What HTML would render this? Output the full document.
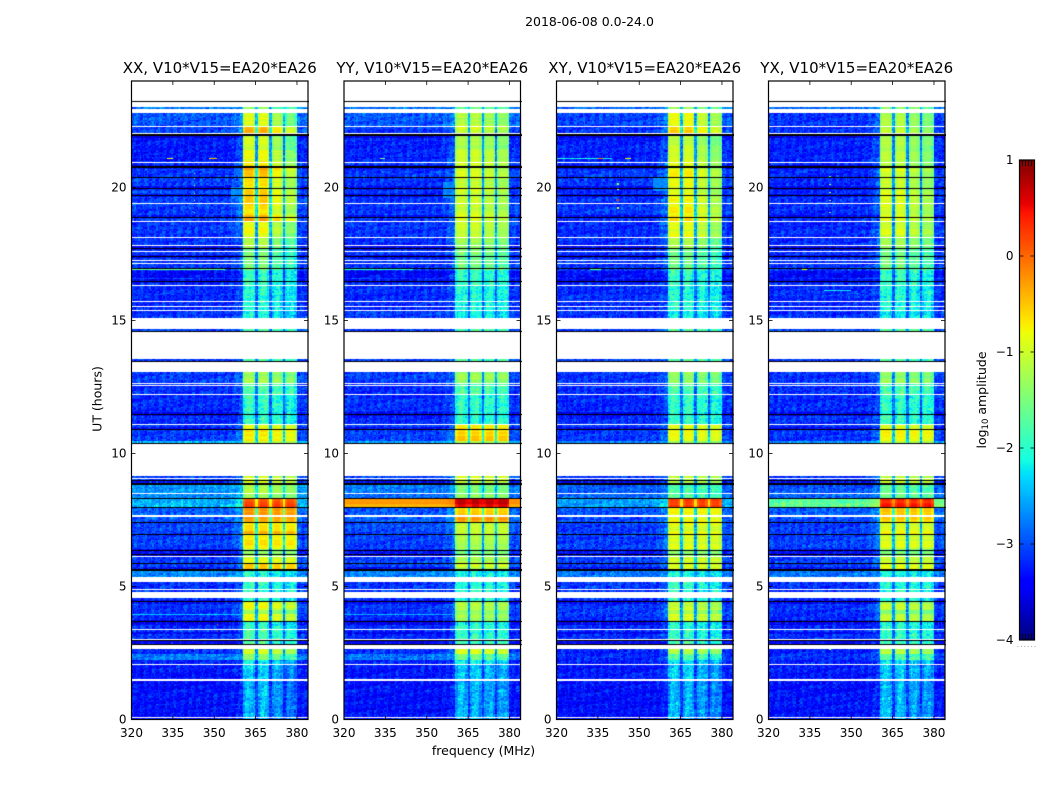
<!DOCTYPE html>
<html lang="en">
<head>
<meta charset="utf-8">
<title>Dynamic spectra 2018-06-08</title>
<style>
html,body{margin:0;padding:0;background:#fff;}
#figure{position:relative;width:1050px;height:800px;overflow:hidden;background:#fff;font-family:"DejaVu Sans","Liberation Sans",sans-serif;}
#figure canvas{position:absolute;display:block;}
#overlay{position:absolute;left:0;top:0;}
#overlay text{fill:#000;font-family:"DejaVu Sans","Liberation Sans",sans-serif;}
</style>
</head>
<body>
<div id="figure">
<svg id="overlay" width="1050" height="800" viewBox="0 0 1050 800" xmlns="http://www.w3.org/2000/svg">
  <text x="589.5" y="26" font-size="12.5" text-anchor="middle">2018-06-08 0.0-24.0</text>
  <text x="483.5" y="755" font-size="12.5" text-anchor="middle">frequency (MHz)</text>
  <text transform="translate(101.5 399) rotate(-90)" font-size="12.5" text-anchor="middle">UT (hours)</text>
  <text transform="translate(986 400) rotate(-90)" font-size="12.5" text-anchor="middle">log<tspan font-size="8.5" dy="2">10</tspan><tspan dy="-2"> amplitude</tspan></text>
</svg>
</div>
<script>
/* ---------- axis ticks ---------- */
const xTicks = [320, 335, 350, 365, 380];
const yTicks = [0, 5, 10, 15, 20];
const colorTicks = [-4, -3, -2, -1, 0, 1];
const panelTitles = ['XX, V10*V15=EA20*EA26', 'YY, V10*V15=EA20*EA26', 'XY, V10*V15=EA20*EA26', 'YX, V10*V15=EA20*EA26'];
const panelKeys = ['xx', 'yy', 'xy', 'yx'];

/* ---------- time structure (hours UT), one entry per level segment ---------- */
const rowStart = [0,1.5,2.05,2.25,2.45,2.8,3,3.4,3.7,3.95,
4.1,4.45,5.37,5.65,5.85,6.1,6.4,6.95,7.1,7.4,
7.66,8,8.32,8.5,8.85,9.14,10.38,10.45,10.95,11.1,
12.2,12.6,13.08,15.08,15.4,16.3,16.9,17.7,18.1,18.75,
18.95,19.4,19.7,20,20.4,20.8,21,21.4,22,22.3,
22.8];

/* log10 amplitude below 360 MHz and inside the 360-380 MHz band */
const xxLow = [-3.25,-3.2,-3.15,-2.7,-3.1,-3.1,-3.1,-3.1,-3.1,-3.05,
-3.05,-3.05,-2.65,-3,-3,-3,-3,-3,-2.95,-2.9,
-2.85,-2.4,-2.6,-2.55,-3,-3,-2.4,-3,-3,-3.1,
-3.1,-3,-3,-3.05,-3.1,-3.05,-3.05,-3.05,-3.05,-3,
-3,-3,-3,-3,-3,-3.05,-3.2,-3.2,-3,-2.85,
-2.7];
const xxHigh = [-2.45,-2.35,-2.15,-1.5,-1.05,-1.7,-1.8,-1.9,-.9,-1.3,
-.95,-1.9,-2,-.6,-.9,-1.3,-.75,-.45,-.7,-.4,
-.35,.1,-1.35,-1.2,-1.05,-1.5,-1.2,-.75,-.85,-1.9,
-1.75,-1.35,-1.7,-2.1,-2,-1.85,-1.6,-1.3,-1,-.5,
-.8,-.7,-.75,-.8,-.55,-.8,-.95,-1.15,-.6,-1.05,
-1.5];
const yyLow = [-3.25,-3.2,-3.15,-2.75,-3.1,-3.1,-3.1,-3.1,-3.1,-3.05,
-3.05,-3.05,-2.65,-3,-3,-3,-3,-3,-2.95,-2.85,
-2.85,-.35,-2.75,-2.7,-3,-3,-2.5,-3,-3,-3.1,
-3.1,-3,-3,-3.05,-3.1,-3.05,-3.05,-3.05,-3.05,-3.05,
-3.05,-3.05,-3.05,-3.05,-3.05,-3.05,-3.15,-3.15,-3.05,-2.85,
-2.7];
const yyHigh = [-2.45,-2.35,-2.15,-1.6,-1.05,-1.75,-1.85,-1.95,-1.25,-1.4,
-1.15,-1.95,-2,-1.1,-1.25,-1.45,-1.25,-1.1,-1.15,-.3,
-.55,.6,-1.35,-1.5,-1,-1.5,-1.2,-.6,-.75,-1.9,
-1.7,-1.35,-1.7,-2.1,-2,-1.85,-1.55,-1.3,-1.1,-1,
-1.1,-1.05,-1.05,-1.1,-1,-1.05,-1.15,-1.25,-1.05,-1.2,
-1.55];
const xyLow = [-3.25,-3.2,-3.15,-3.05,-3.15,-3.1,-3.1,-3.1,-3.1,-3.05,
-3.05,-3.05,-2.7,-3,-3,-3,-3,-3,-3,-2.95,
-2.9,-2.5,-2.8,-2.85,-3.05,-3,-2.6,-3.05,-3.05,-3.1,
-3.1,-3.05,-3,-3.05,-3.1,-3.05,-3.05,-3.1,-3.1,-3.05,
-3.05,-3.05,-3.05,-3.05,-3.05,-3.05,-3.15,-3.15,-3.05,-3,
-2.8];
const xyHigh = [-2.45,-2.35,-2.2,-1.7,-1.2,-1.75,-1.9,-1.95,-1.05,-1.4,
-1.1,-1.95,-2.05,-.9,-1.05,-1.4,-.95,-.8,-.95,-.85,
-.8,.2,-1.7,-1.75,-1.15,-1.5,-1.25,-.9,-.95,-1.9,
-1.75,-1.4,-1.7,-2.1,-2,-1.85,-1.6,-1.35,-1,-.7,
-.9,-.9,-.95,-1,-.9,-1,-1.05,-1.2,-.65,-1,
-1.4];
const yxLow = [-3.25,-3.2,-3.15,-3.05,-3.15,-3.1,-3.1,-3.1,-3.1,-3.05,
-3.05,-3.05,-2.75,-3,-3,-3,-3,-3,-3,-2.95,
-2.85,-1.6,-2.8,-2.85,-3.05,-3,-2.6,-3.05,-3.05,-3.1,
-3.1,-3.05,-3,-3.05,-3.1,-3.05,-3.05,-3.1,-3.1,-3.1,
-3.1,-3.1,-3.1,-3.1,-3.1,-3.1,-3.15,-3.15,-3.1,-3.05,
-2.8];
const yxHigh = [-2.45,-2.35,-2.2,-1.7,-1.15,-1.75,-1.9,-1.95,-1.1,-1.45,
-1.15,-1.95,-2.05,-.9,-1.1,-1.4,-1,-.8,-.95,-.65,
-.6,.35,-1.6,-1.6,-1.1,-1.5,-1.25,-.8,-.9,-1.9,
-1.75,-1.4,-1.7,-2.1,-2,-1.85,-1.6,-1.3,-1.05,-.95,
-1.05,-1.05,-1.05,-1.1,-1.05,-1.15,-1.2,-1.3,-1.2,-1.25,
-1.5];
/* how much the upper sub-bands fall below the lower ones in each segment */
const rowTilt = [.6,.6,.6,.5,.5,.5,.5,.5,.4,.4,
.4,.4,.4,.1,.1,.1,.1,.1,.1,.1,
.1,0,.3,.3,.3,.3,.3,.2,.2,.3,
.3,.3,.3,.4,.4,.5,.6,.8,1,1,
1,1,1,1,1,1,1,1,1,1,
.6];
const panelTilt = [1, .4, .7, .5];

/* ---------- frequency structure (MHz) ---------- */
const notchWeight = .28;
const profileStart  = [320,356,357,358,359,360,360.4,361.2,363.9,364.8,365.7,366.5,369.1,369.96,370.8,371.6,374,374.8,375.5,376.3,379,380];
const profileWeight = [0,.03,.06,.1,.14,.2,1,1,1,.28,1,1,1,.28,1,1,1,.28,1,1,1,.04];
const profileTrim   = [0,0,0,0,0,0,-.12,.06,-.12,0,-.12,.06,-.12,0,-.12,.06,-.12,0,-.12,.06,-.12,0];
const profileTilt   = [0,0,0,0,0,0,.1,.1,.1,0,.12,.12,.12,0,-.2,-.2,-.2,-.2,-.5,-.5,-.5,0];

/* ---------- flagged data: white gaps [start,end] and black lines [centre,width] in hours ---------- */
const whiteGaps = [[.05,.09],[1.46,1.53],[2.04,2.08],[2.65,2.8],[2.99,3.03],[3.35,3.39],[4.57,4.6],[4.62,4.79],[4.85,4.89],[5.18,5.37],
[6.1,6.14],[7.6,7.67],[8.49,8.53],[9.03,9.07],[9.14,10.38],[11.07,11.12],[12.18,12.24],[12.55,12.58],[12.6,12.63],[13.08,13.45],
[13.55,14.56],[14.66,15.08],[15.38,15.41],[15.53,15.56],[15.7,15.73],[16.28,16.32],[17.13,17.17],[17.24,17.27],[17.56,17.6],[17.8,17.85],
[18.09,18.13],[18.71,18.75],[19.39,19.43],[20.93,20.97],[22.02,22.06],[22.28,22.32],[22.8,22.95],[23.03,24]];
const blackLines = [[2.82,.03],[2.97,.03],[3.68,.06],[4.43,.05],[5.62,.08],[5.87,.03],[6.22,.03],[6.37,.03],[6.94,.04],[7.41,.04],
[7.98,.03],[8.32,.04],[8.85,.06],[9,.03],[10.38,.03],[10.91,.05],[11.47,.04],[13.45,.04],[14.58,.04],[16.48,.04],
[16.96,.03],[17.4,.04],[17.7,.04],[18.88,.05],[19.7,.04],[19.96,.07],[20.38,.04],[20.76,.06],[21.94,.03],[22,.03],[23.23,.05]];
/* rows where the whole spectrum sits visibly darker */
const darkBands = [[2.82,2.97],[3.2,3.3],[3.55,3.75],[4.35,4.5],[5.58,5.72],[6.15,6.4],[8.8,9],[10.9,11],[11.4,11.55],[16.4,16.55],
[16.6,16.85],[17.35,17.45],[17.65,17.78],[18.85,18.95],[19.65,19.75],[19.9,20.05],[20.7,20.85],[21.85,22.02]];

/* ---------- narrow interference: [hourStart,hourEnd,mhzStart,mhzEnd,level] ---------- */
const xxSpikes = [[16.9,16.95,320,354,-1.6],[16.92,16.97,340,342,.2],[21.07,21.11,333,335,-.8],[21.07,21.11,348,351,-.5],[18.08,18.15,349,350,-.2],
[13.05,13.09,345,346,-.6],[13.05,13.09,352,355,-.5],[13.05,13.09,330,334,-1.4],[3.93,3.97,320,360,-2.4],[19.05,19.09,342.5,343,-1.5],[19.5,19.54,342.5,343,-1.2],[19.75,19.8,342.5,343,-1.1],[20.05,20.1,342.5,343,-1],[20.3,20.35,342.5,343,-1.2],[20.5,20.55,342.5,343,-1.5],
[3.28,3.33,351,351.5,.2],[3.55,3.6,351,351.5,.1],[2.62,2.66,342.5,343,-1.6],[19.6,20,356,360,-2.7]];
const yySpikes = [[16.9,16.95,320,345,-2],[21.07,21.11,333,335,-1.5],[3.93,3.97,320,360,-2.5],[19.6,20.2,356,360,-2.7]];
const xySpikes = [[21.07,21.11,320,340,-2.1],[21.07,21.11,335,337,-.1],[21.07,21.11,345,347,-.8],[19.5,19.56,342,342.5,.4],[19.2,19.25,342,342.5,-1.1],[19.9,19.95,342,342.5,-1.1],[20.1,20.15,342,342.5,-1.3],[18.7,18.75,342,342.5,-1.6],
[16.9,16.95,332,336,-1.7],[2.6,2.66,342,342.5,-1],[19.85,20.35,355,360,-2.7]];
const yxSpikes = [[19.05,19.09,342,342.5,-1.4],[19.5,19.54,342,342.5,-1.2],[19.8,19.84,342,342.5,-1.1],[20.1,20.14,342,342.5,-1.3],[20.4,20.44,342,342.5,-1.5],
[16.9,16.95,332,334,-.8],[16.1,16.14,340,350,-2.2],[2.6,2.66,342,342.5,-1.3]];

/* ---------- fixed receiver-noise texture (hand-typed, normalised) ---------- */
const speckleA = [.4,-.7,.9,-.2,.1,-.9,.6,.3,-.5,.8,-.1,-.6,.2,.7,-.8,.5,-.3,1,-.4,0,.6,-1,.3,-.2,.8,-.7,.1,.5,-.9,.4,
-.1,.7,-.5,.2,-.8,.9,-.3,.6,0,-.6,.3,-.9,.7,.1,-.4,.5,-.2,.8,-.7,.2,-.5,.9,-.1];
const speckleB = [-.3,.8,-.6,.2,.5,-.9,.1,.7,-.4,-.1,.9,-.7,.3,.6,-.2,-.8,.4,1,-.5,0,.7,-.3,-.9,.5,.2,-.6,.8,-.1,.4,-.7,
.6,.1,-.4,.9,-.8,.3,-.2,.5,-1,.7,.2,-.5,.4,-.6,.8,-.3,.1];

const lowByPanel = [xxLow, yyLow, xyLow, yxLow];
const highByPanel = [xxHigh, yyHigh, xyHigh, yxHigh];
const spikesByPanel = [xxSpikes, yySpikes, xySpikes, yxSpikes];

/* ---------- layout ---------- */
const panelLeft = [131.5, 344, 556.5, 768.5];
const panelWidth = 176.5, plotTop = 81, plotBottom = 719.5;
const freqMin = 320, freqMax = 384, hourMin = 0, hourMax = 24;
const cbLeft = 1019.5, cbRight = 1034.5, cbTop = 160, cbBottom = 640;
const colorMin = -4, colorMax = 1;
const SVGNS = 'http://www.w3.org/2000/svg';
const overlay = document.getElementById('overlay');
const figure = document.getElementById('figure');

function xScale(left, mhz) { return left + (mhz - freqMin) * panelWidth / (freqMax - freqMin); }
function yScale(hour) { return plotBottom - (hour - hourMin) * (plotBottom - plotTop) / (hourMax - hourMin); }
function cScale(level) { return cbBottom - (level - colorMin) * (cbBottom - cbTop) / (colorMax - colorMin); }

function ramp(p, xs, ys) {
  if (p <= xs[0]) return ys[0];
  for (let i = 1; i < xs.length; i++) {
    if (p <= xs[i]) return ys[i - 1] + (ys[i] - ys[i - 1]) * (p - xs[i - 1]) / (xs[i] - xs[i - 1]);
  }
  return ys[ys.length - 1];
}
function jet(level) {
  const p = Math.max(0, Math.min(1, (level - colorMin) / (colorMax - colorMin)));
  return [
    255 * ramp(p, [0, .35, .66, .89, 1], [0, 0, 1, 1, .5]),
    255 * ramp(p, [0, .125, .375, .64, .91, 1], [0, 0, 1, 1, 0, 0]),
    255 * ramp(p, [0, .11, .34, .65, 1], [.5, 1, 1, 0, 0])
  ];
}
function segmentIndex(hour) {
  let k = 0;
  while (k + 1 < rowStart.length && rowStart[k + 1] <= hour) k++;
  return k;
}
function profileIndex(mhz) {
  let k = 0;
  while (k + 1 < profileStart.length && profileStart[k + 1] <= mhz) k++;
  return k;
}
function cellValue(p, hour, mhz) {
  const seg = segmentIndex(hour);
  const prof = profileIndex(mhz);
  const r = Math.floor(hour / 0.05);
  const c = Math.floor((mhz - freqMin) / 0.5);
  const low = lowByPanel[p][seg];
  const high = highByPanel[p][seg] + profileTilt[prof] * rowTilt[seg] * panelTilt[p] + profileTrim[prof];
  let w = profileWeight[prof];
  if (w === notchWeight) w += .35 * Math.max(0, high + 1);
  let v = low + (high - low) * w;
  const noise = speckleA[(c * 7 + r * 11 + p * 9) % 53] * .22 + speckleB[(c * 5 + r * 23 + (c * r) % 13 + p * 5) % 47] * .22;
  const ripple = speckleB[(r * 3 + p) % 47];
  v += v < -1.55 ? noise - .1 + ripple * .05 : noise * .12 + ripple * .12;
  for (let d = 0; d < darkBands.length; d++) {
    if (hour >= darkBands[d][0] && hour < darkBands[d][1]) v -= .2 * (1 - Math.min(1, w)) + .06;
  }
  const spikes = spikesByPanel[p];
  for (let s = 0; s < spikes.length; s++) {
    const q = spikes[s];
    if (hour >= q[0] && hour < q[1] && mhz >= q[2] && mhz < q[3]) v = q[4] + noise * .4;
  }
  return v;
}

function drawHeatmap(p) {
  const left = panelLeft[p];
  const x0 = Math.floor(left), y0 = plotTop;
  const cw = 178, ch = Math.ceil(plotBottom - plotTop);
  const cv = document.createElement('canvas');
  
  
  cv.width = cw; cv.height = ch;
  cv.style.left = x0 + 'px'; cv.style.top = y0 + 'px';
  const ctx = cv.getContext('2d');
  const img = ctx.createImageData(cw, ch);
  for (let py = 0; py < ch; py++) {
    const hour = (plotBottom - (y0 + py + .5)) * (hourMax - hourMin) / (plotBottom - plotTop);
    for (let px = 0; px < cw; px++) {
      const mhz = freqMin + (x0 + px + .5 - left) * (freqMax - freqMin) / panelWidth;
      const i = (py * cw + px) * 4;
      let rgb = [255, 255, 255];
      if (hour >= 0 && mhz >= freqMin && mhz <= freqMax) rgb = jet(cellValue(p, hour, mhz));
      img.data[i] = rgb[0]; img.data[i + 1] = rgb[1]; img.data[i + 2] = rgb[2]; img.data[i + 3] = 255;
    }
  }
  ctx.putImageData(img, 0, 0);
  ctx.fillStyle = '#fff';
  whiteGaps.forEach(function (g) {
    const a = Math.round(yScale(g[1])), b = Math.round(yScale(g[0]));
    ctx.fillRect(0, a - y0, cw, Math.max(1, b - a));
  });
  ctx.fillStyle = '#000';
  blackLines.forEach(function (g) {
    const a = Math.round(yScale(g[0] + g[1] / 2)), b = Math.round(yScale(g[0] - g[1] / 2));
    ctx.fillRect(0, a - y0, cw, Math.max(1, b - a));
  });
  figure.insertBefore(cv, overlay);
}

function addLine(x1, y1, x2, y2, name, width) {
  const l = document.createElementNS(SVGNS, 'line');
  l.setAttribute('x1', x1); l.setAttribute('y1', y1);
  l.setAttribute('x2', x2); l.setAttribute('y2', y2);
  l.setAttribute('stroke', '#000');
  l.setAttribute('stroke-width', width || 0.8);
  
  
  overlay.appendChild(l);
}
function addText(x, y, str, size, anchor, name) {
  const t = document.createElementNS(SVGNS, 'text');
  t.setAttribute('x', x); t.setAttribute('y', y);
  t.setAttribute('font-size', size);
  t.setAttribute('text-anchor', anchor);
  
  
  t.textContent = str;
  overlay.appendChild(t);
}

function drawAxes(p) {
  const left = panelLeft[p], right = left + panelWidth;
  const frame = document.createElementNS(SVGNS, 'rect');
  frame.setAttribute('x', left); frame.setAttribute('y', plotTop);
  frame.setAttribute('width', panelWidth); frame.setAttribute('height', plotBottom - plotTop);
  frame.setAttribute('fill', 'none'); frame.setAttribute('stroke', '#000');
  frame.setAttribute('stroke-width', 1.2);
  
  
  overlay.appendChild(frame);
  xTicks.forEach(function (f) {
    const x = xScale(left, f);
    addLine(x, plotBottom, x, plotBottom - 4, 'x-tick-bottom-' + f);
    addLine(x, plotTop, x, plotTop + 4, 'x-tick-top-' + f);
    addText(x, 737, String(f), 12, 'middle', 'x-tick-label-' + f);
  });
  yTicks.forEach(function (h) {
    const y = yScale(h);
    addLine(left, y, left + 4, y, 'y-tick-left-' + h);
    addLine(right, y, right - 4, y, 'y-tick-right-' + h);
    addText(left - 5, y + 4, String(h), 12, 'end', 'y-tick-label-' + h);
  });
  addText(left + panelWidth / 2, 73, panelTitles[p], 15, 'middle', 'panel-title-' + panelKeys[p]);
}

function drawColorbar() {
  const cv = document.createElement('canvas');
  
  
  const h = cbBottom - cbTop;
  cv.width = 15; cv.height = h;
  cv.style.left = Math.ceil(cbLeft) + 'px'; cv.style.top = cbTop + 'px';
  const ctx = cv.getContext('2d');
  for (let y = 0; y < h; y++) {
    const level = colorMax - (y + .5) * (colorMax - colorMin) / h;
    const rgb = jet(level);
    ctx.fillStyle = 'rgb(' + Math.round(rgb[0]) + ',' + Math.round(rgb[1]) + ',' + Math.round(rgb[2]) + ')';
    ctx.fillRect(0, y, 15, 1);
  }
  figure.insertBefore(cv, overlay);
  const frame = document.createElementNS(SVGNS, 'rect');
  frame.setAttribute('x', cbLeft); frame.setAttribute('y', cbTop);
  frame.setAttribute('width', cbRight - cbLeft); frame.setAttribute('height', cbBottom - cbTop);
  frame.setAttribute('fill', 'none'); frame.setAttribute('stroke', '#000');
  frame.setAttribute('stroke-width', 1.2);
  
  
  overlay.appendChild(frame);
  colorTicks.forEach(function (v) {
    const y = cScale(v);
    addLine(cbLeft, y, cbLeft + 4, y, 'colorbar-tick-left-' + v);
    addLine(cbRight, y, cbRight - 4, y, 'colorbar-tick-right-' + v);
    addText(1013.5, y + 4, (v < 0 ? '\u2212' + Math.abs(v) : String(v)), 12, 'end', 'colorbar-tick-label-' + v);
  });
  for (let i = 0; i < 5; i++) {
    const x = cbLeft + 3 + i * 3;
    addLine(x, cbTop, x, cbTop + 6, 'colorbar-minor-tick-top');
    addLine(x, cbBottom, x, cbBottom - 6, 'colorbar-minor-tick-bottom');
  }
  for (let i = 0; i < 6; i++) {
    const d = document.createElementNS(SVGNS, 'rect');
    d.setAttribute('x', 1017.5 + i * 3.4); d.setAttribute('y', 646);
    d.setAttribute('width', 1); d.setAttribute('height', 1);
    d.setAttribute('fill', '#aaa');
    
    
    overlay.appendChild(d);
  }
}

for (let p = 0; p < 4; p++) { drawHeatmap(p); drawAxes(p); }
drawColorbar();
</script>
</body>
</html>
